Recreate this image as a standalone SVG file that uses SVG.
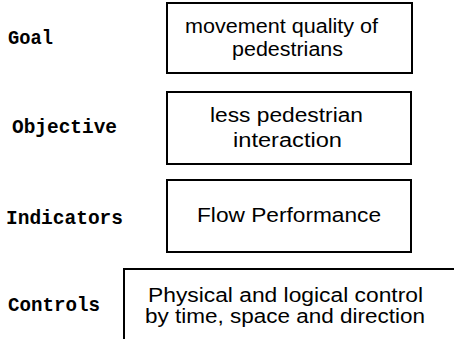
<svg xmlns="http://www.w3.org/2000/svg" width="454" height="339" viewBox="0 0 454 339">
<style>
.box{fill:#fff;stroke:#000;stroke-width:2}
.lbl{font-family:"Liberation Mono",monospace;font-weight:bold;font-size:21px;fill:#000}
.txt{font-family:"Liberation Sans",Arial,sans-serif;font-size:20px;fill:#000}
</style>
<rect width="454" height="339" fill="#fff"/>
<g id="labels">
<text class="lbl" x="8" y="44" textLength="45" lengthAdjust="spacingAndGlyphs">Goal</text>
<text class="lbl" x="12" y="133" textLength="105" lengthAdjust="spacingAndGlyphs">Objective</text>
<text class="lbl" x="6" y="224" textLength="117" lengthAdjust="spacingAndGlyphs">Indicators</text>
<text class="lbl" x="8" y="311" textLength="92" lengthAdjust="spacingAndGlyphs">Controls</text>
</g>
<g id="goal">
<rect class="box" x="167" y="3" width="245" height="70"/>
<text class="txt" x="185" y="33" textLength="193" lengthAdjust="spacingAndGlyphs">movement quality of</text>
<text class="txt" x="232" y="56" textLength="111" lengthAdjust="spacingAndGlyphs">pedestrians</text>
</g>
<g id="objective">
<rect class="box" x="167" y="92" width="244" height="72"/>
<text class="txt" x="210" y="122" textLength="153" lengthAdjust="spacingAndGlyphs">less pedestrian</text>
<text class="txt" x="233" y="147" textLength="109" lengthAdjust="spacingAndGlyphs">interaction</text>
</g>
<g id="indicators">
<rect class="box" x="167" y="180" width="244" height="72"/>
<text class="txt" x="197" y="222" textLength="184" lengthAdjust="spacingAndGlyphs">Flow Performance</text>
</g>
<g id="controls">
<path class="box" d="M124,340 V269 H455" fill="none"/>
<text class="txt" x="148" y="302" textLength="275" lengthAdjust="spacingAndGlyphs">Physical and logical control</text>
<text class="txt" x="145" y="323" textLength="280" lengthAdjust="spacingAndGlyphs">by time, space and direction</text>
</g>
<g id="connectors"></g>
</svg>
